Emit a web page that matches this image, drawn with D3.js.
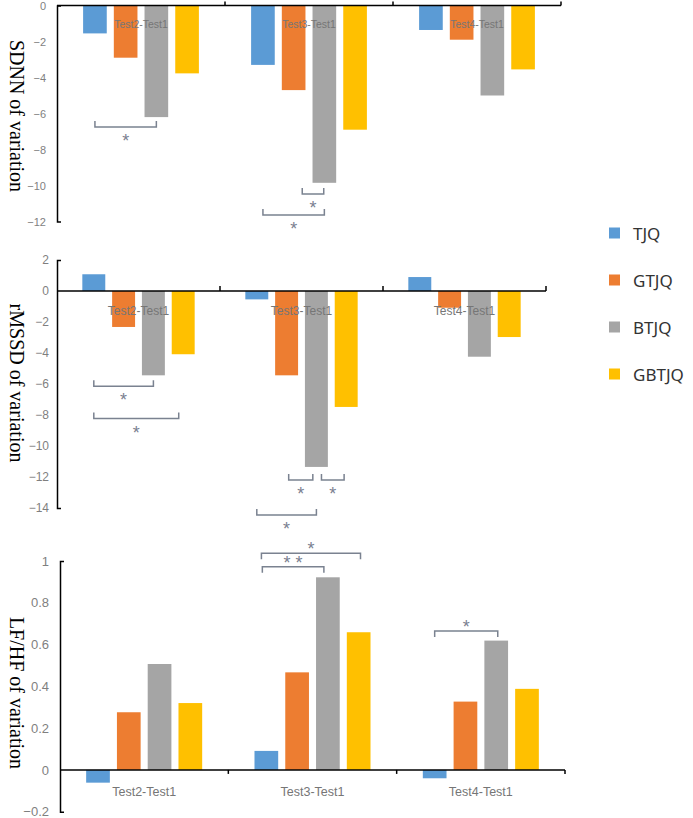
<!DOCTYPE html>
<html lang="en">
<head>
	<meta charset="utf-8">
	<title>HRV variation</title>
	<script src="https://cdn.jsdelivr.net/npm/d3@7"></script>
	<style>
		body { margin: 0; background: #fff; }
	</style>
</head>
<body>
	<script>
		// categories and groups
		const categories = ["Test2-Test1", "Test3-Test1", "Test4-Test1"];
		const groups = ["TJQ", "GTJQ", "BTJQ", "GBTJQ"];
		const colors = ["#5b9bd5", "#ed7d31", "#a5a5a5", "#ffc000"];

		// values, one row per group, one column per category
		const sdnnValues = [
			[-1.55, -3.3, -1.36],
			[-2.9, -4.7, -1.9],
			[-6.2, -9.85, -5.0],
			[-3.77, -6.9, -3.55]
		];
		const rmssdValues = [
			[1.08, -0.54, 0.9],
			[-2.32, -5.44, -1.08],
			[-5.44, -11.35, -4.24],
			[-4.08, -7.48, -2.97]
		];
		const lfhfValues = [
			[-0.061, 0.091, -0.04],
			[0.276, 0.467, 0.327],
			[0.507, 0.922, 0.619],
			[0.32, 0.659, 0.388]
		];

		// tick labels
		const sdnnTicks = [0, -2, -4, -6, -8, -10, -12];
		const rmssdTicks = [2, 0, -2, -4, -6, -8, -10, -12, -14];
		const lfhfTicks = [1, 0.8, 0.6, 0.4, 0.2, 0, -0.2];

		// significance brackets: category, from group pos, to group pos, value level, marks
		const sdnnSig = [
			{ cat: 0, from: 0, to: 2, level: -6.75, mark: "*" },
			{ cat: 1, from: 1.28, to: 1.98, level: -10.47, mark: "*" },
			{ cat: 1, from: 0, to: 2, level: -11.64, mark: "*" }
		];
		const rmssdSig = [
			{ cat: 0, from: 0, to: 2, level: -6.14, mark: "*" },
			{ cat: 0, from: 0, to: 2.85, level: -8.23, mark: "*" },
			{ cat: 1, from: 1.07, to: 1.88, level: -12.19, mark: "*" },
			{ cat: 1, from: 2.17, to: 2.93, level: -12.19, mark: "*" },
			{ cat: 1, from: 0, to: 2, level: -14.45, mark: "*" }
		];
		const lfhfSig = [
			{ cat: 1, from: -0.13, to: 1.87, level: 0.973, mark: "* *" },
			{ cat: 1, from: -0.16, to: 3.06, level: 1.037, mark: "*" },
			{ cat: 2, from: 0, to: 2.05, level: 0.665, mark: "*" }
		];

		const W = 693;
		const H = 818;

		const svg = d3.select("body")
			.append("svg")
			.attr("width", W)
			.attr("height", H);

		function drawPanel(opt) {
			const g = svg.append("g");

			const y = d3.scaleLinear()
				.domain(opt.domain)
				.range([opt.yTop, opt.yBottom]);

			const x = d3.scaleBand()
				.domain(categories)
				.range([opt.xLeft, opt.xRight]);

			const xInner = d3.scaleBand()
				.domain(d3.range(groups.length))
				.range([0, x.bandwidth()])
				.paddingInner(0.23)
				.paddingOuter(0.85);

			// bars
			opt.values.forEach(function (row, gi) {
				g.selectAll("rect.s" + gi)
					.data(row)
					.enter()
					.append("rect")
					.attr("class", "s" + gi)
					.attr("x", function (d, ci) {
						return x(categories[ci]) + xInner(gi);
					})
					.attr("y", function (d) {
						return y(Math.max(0, d));
					})
					.attr("width", xInner.bandwidth())
					.attr("height", function (d) {
						return Math.abs(y(d) - y(0));
					})
					.attr("fill", colors[gi]);
			});

			// y axis
			const yAxis = d3.axisLeft(y)
				.tickValues(opt.ticks)
				.tickSizeInner(0)
				.tickSizeOuter(-4)
				.tickPadding(opt.tickPad)
				.tickFormat(d3.format(""));

			const ya = g.append("g")
				.attr("transform", `translate(${opt.xLeft},0)`)
				.call(yAxis);
			ya.select(".domain").attr("stroke", "#000").attr("stroke-width", 1.5);
			ya.selectAll("text")
				.attr("fill", "#7f7f7f")
				.attr("font-family", "Liberation Sans, Arial, sans-serif")
				.attr("font-size", opt.tickFont + "px");

			// x axis line with boundary ticks
			const y0 = y(0);
			g.append("line")
				.attr("x1", opt.xLeft)
				.attr("x2", opt.xRight)
				.attr("y1", y0)
				.attr("y2", y0)
				.attr("stroke", "#000")
				.attr("stroke-width", 1.5);

			const bounds = categories.map(function (c) { return x(c); }).slice(1).concat([opt.xRight]);
			g.selectAll("line.xt")
				.data(bounds)
				.enter()
				.append("line")
				.attr("class", "xt")
				.attr("x1", function (d) { return d; })
				.attr("x2", function (d) { return d; })
				.attr("y1", y0)
				.attr("y2", y0 + opt.xTick)
				.attr("stroke", "#000")
				.attr("stroke-width", 1.5);

			// category labels
			g.selectAll("text.cat")
				.data(categories)
				.enter()
				.append("text")
				.attr("class", "cat")
				.attr("x", function (d) { return x(d) + x.bandwidth() / 2; })
				.attr("y", y0 + opt.labelOffset)
				.attr("text-anchor", "middle")
				.attr("fill", "#767676")
				.attr("font-family", "Liberation Sans, Arial, sans-serif")
				.attr("font-size", opt.catFont + "px")
				.text(function (d) { return d; });

			// y title
			g.append("text")
				.attr("transform", `translate(15,${opt.titleY}) rotate(90)`)
				.attr("text-anchor", "middle")
				.attr("dominant-baseline", "middle")
				.attr("font-family", "Liberation Serif, Times New Roman, serif")
				.attr("font-size", "20px")
				.attr("fill", "#000")
				.text(opt.title);

			// significance brackets
			const step = xInner.step();
			function gx(s) {
				return x(categories[s.cat]) + xInner(0) + xInner.bandwidth() / 2;
			}
			const cap = opt.capDown ? 6 : -6;
			g.selectAll("path.sig")
				.data(opt.sig)
				.enter()
				.append("path")
				.attr("class", "sig")
				.attr("d", function (s) {
					const x1 = gx(s) + s.from * step;
					const x2 = gx(s) + s.to * step;
					const yy = y(s.level);
					return `M${x1},${yy + cap}V${yy}H${x2}V${yy + cap}`;
				})
				.attr("fill", "none")
				.attr("stroke", "#7a8290")
				.attr("stroke-width", 1.5);

			g.selectAll("text.sig")
				.data(opt.sig)
				.enter()
				.append("text")
				.attr("class", "sig")
				.attr("x", function (s) { return gx(s) + (s.from + s.to) / 2 * step; })
				.attr("y", function (s) { return y(s.level) + (opt.capDown ? 2 : 20); })
				.attr("text-anchor", "middle")
				.attr("fill", "#7a8090")
				.attr("font-family", "Liberation Sans, Arial, sans-serif")
				.attr("font-size", "18px")
				.text(function (s) { return s.mark; });
		}

		drawPanel({
			values: sdnnValues, ticks: sdnnTicks, sig: sdnnSig,
			domain: [0, -12], yTop: 5.5, yBottom: 221.5,
			xLeft: 57, xRight: 561, tickPad: 11, tickFont: 11,
			xTick: -4, labelOffset: 22, catFont: 10.5,
			title: "SDNN of variation", titleY: 116, capDown: false
		});

		drawPanel({
			values: rmssdValues, ticks: rmssdTicks, sig: rmssdSig,
			domain: [2, -14], yTop: 260, yBottom: 508,
			xLeft: 57, xRight: 546, tickPad: 8, tickFont: 12,
			xTick: -5, labelOffset: 24, catFont: 12,
			title: "rMSSD of variation", titleY: 383, capDown: false
		});

		drawPanel({
			values: lfhfValues, ticks: lfhfTicks, sig: lfhfSig,
			domain: [1, -0.2], yTop: 561, yBottom: 811.7,
			xLeft: 60, xRight: 565, tickPad: 11, tickFont: 13,
			xTick: 4, labelOffset: 26, catFont: 12.5,
			title: "LF/HF of variation", titleY: 693, capDown: true
		});

		// legend
		const legend = svg.append("g")
			.attr("transform", "translate(609,233)");
		const item = legend.selectAll("g")
			.data(groups)
			.enter()
			.append("g")
			.attr("transform", function (d, i) { return `translate(0,${i * 47})`; });
		item.append("rect")
			.attr("x", 0)
			.attr("y", -5.5)
			.attr("width", 11)
			.attr("height", 11)
			.attr("fill", function (d, i) { return colors[i]; });
		item.append("text")
			.attr("x", 24)
			.attr("y", 0)
			.attr("dominant-baseline", "central")
			.attr("font-family", "Noto Sans, sans-serif")
			.attr("font-size", "17px")
			.attr("fill", "#333")
			.text(function (d) { return d; });
	</script>
</body>
</html>
